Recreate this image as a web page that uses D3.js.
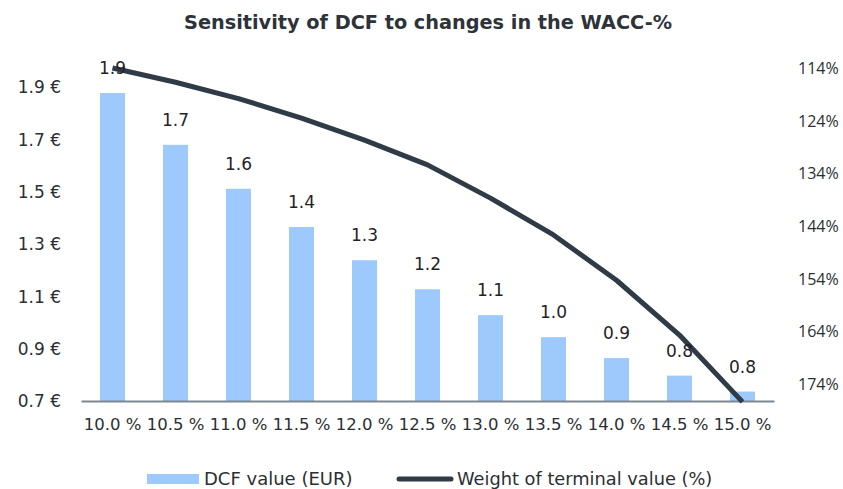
<!DOCTYPE html>
<html>
<head>
<meta charset="utf-8">
<script src="https://cdn.jsdelivr.net/npm/d3@7"></script>
<style>
  body { margin: 0; background: #fff; }
  svg { display: block; }
  text { font-family: "DejaVu Sans", "Open Sans", sans-serif; fill: #2b2f33; }
</style>
</head>
<body>
<svg id="chart" width="843" height="489"></svg>
<script>
const categories = ["10.0 %","10.5 %","11.0 %","11.5 %","12.0 %","12.5 %","13.0 %","13.5 %","14.0 %","14.5 %","15.0 %"];
const dcfValues = [1.877, 1.679, 1.511, 1.365, 1.238, 1.127, 1.028, 0.944, 0.864, 0.797, 0.736];
const dcfLabels = ["1.9","1.7","1.6","1.4","1.3","1.2","1.1","1.0","0.9","0.8","0.8"];
const terminalWeight = [114.0, 116.7, 119.8, 123.5, 127.7, 132.4, 138.7, 145.7, 154.3, 164.7, 177.4];
const leftTicks = [0.7, 0.9, 1.1, 1.3, 1.5, 1.7, 1.9];
const rightTicks = [114, 124, 134, 144, 154, 164, 174];
const title = "Sensitivity of DCF to changes in the WACC-%";
const legendLabels = ["DCF value (EUR)", "Weight of terminal value (%)"];

const svg = d3.select("#chart");
const plot = { left: 81, right: 774, top: 68, bottom: 401 };

const x = d3.scaleBand().domain(categories).range([plot.left, plot.right]).paddingInner(0).paddingOuter(0);
const yL = d3.scaleLinear().domain([0.7, 1.9]).range([plot.bottom, 87]);
const yR = d3.scaleLinear().domain([114, 174]).range([plot.top, 384]);
const barW = 25;

// title
svg.append("text").attr("x", 428).attr("y", 29).attr("text-anchor", "middle")
  .style("font-size", "19.3px").style("font-weight", "bold").style("fill", "#2d3339").text(title);

// bars
svg.append("g").selectAll("rect").data(dcfValues).join("rect")
  .attr("x", (d, i) => x(categories[i]) + x.bandwidth() / 2 - barW / 2)
  .attr("y", d => yL(d))
  .attr("width", barW)
  .attr("height", d => yL(0.7) - yL(d))
  .attr("fill", "#9dc9fd");

// left axis
const gL = svg.append("g").attr("transform", `translate(61,0)`)
  .call(d3.axisLeft(yL).tickValues(leftTicks).tickSize(0).tickPadding(0).tickFormat(d => d3.format(".1f")(d) + " €"));
gL.select(".domain").remove();
gL.selectAll("text").style("font-size", "17px").style("fill", "#2b2f33").attr("dy", "0.35em");

// right axis
const gR = svg.append("g").attr("transform", `translate(798,0)`)
  .call(d3.axisRight(yR).tickValues(rightTicks).tickSize(0).tickPadding(0).tickFormat(d => d + "%"));
gR.select(".domain").remove();
gR.selectAll("text").style("font-size", "16px").style("font-family", "'Open Sans', sans-serif").style("fill", "#2b2f33").attr("dy", "0.35em");

// x axis
const gX = svg.append("g").attr("transform", `translate(0,${plot.bottom})`)
  .call(d3.axisBottom(x).tickSize(0).tickPadding(17));
gX.select(".domain").attr("stroke", "#7d8790").attr("stroke-width", 2);
gX.selectAll("text").style("font-size", "16.5px").style("fill", "#2b2f33");

// line
const line = d3.line()
  .x((d, i) => x(categories[i]) + x.bandwidth() / 2)
  .y(d => yR(d));
svg.append("path").datum(terminalWeight)
  .attr("d", line)
  .attr("fill", "none")
  .attr("stroke", "#2f3b46")
  .attr("stroke-width", 5)
  .attr("stroke-linejoin", "round");

// bar labels
svg.append("g").selectAll("text").data(dcfValues).join("text")
  .attr("x", (d, i) => x(categories[i]) + x.bandwidth() / 2)
  .attr("y", d => yL(d) - 19)
  .attr("text-anchor", "middle")
  .style("font-size", "17px")
  .style("fill", "#1f2326")
  .text((d, i) => dcfLabels[i]);

// legend
const lg = svg.append("g");
lg.append("rect").attr("x", 147).attr("y", 474).attr("width", 52).attr("height", 10).attr("fill", "#9dc9fd");
lg.append("text").attr("x", 204).attr("y", 485).style("font-size", "18px").text(legendLabels[0]);
lg.append("line").attr("x1", 399).attr("x2", 451).attr("y1", 479).attr("y2", 479)
  .attr("stroke", "#2f3b46").attr("stroke-width", 5).attr("stroke-linecap", "round");
lg.append("text").attr("x", 457).attr("y", 485).style("font-size", "17.8px").text(legendLabels[1]);
</script>
</body>
</html>
